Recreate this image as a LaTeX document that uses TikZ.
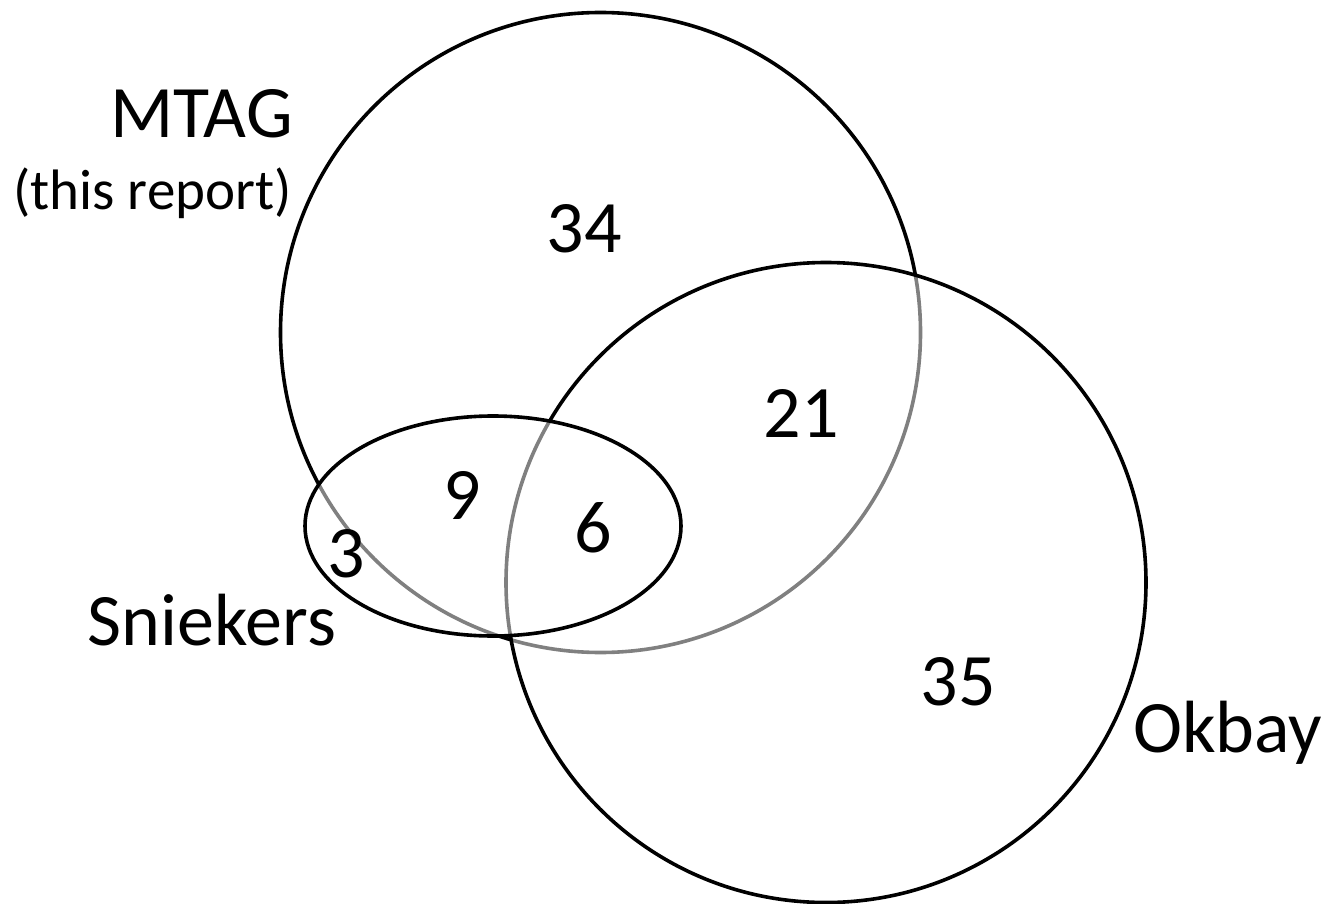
\documentclass[tikz,border=0pt]{standalone}
\usepackage{fontspec}
\setmainfont{Carlito}
\begin{document}
\begin{tikzpicture}[x=1pt,y=-1pt,
  ring/.style={draw=black,line width=3.6pt},
  veil/.style={ring,fill=white,fill opacity=0.5},
  big/.style={font=\fontsize{74}{80}\selectfont,inner sep=0pt},
  small/.style={font=\fontsize{57}{62}\selectfont,inner sep=0pt}]
\useasboundingbox (0,0) rectangle (1341,904);
\fill[white] (0,0) rectangle (1341,904);
% MTAG circle
\path[ring] (600.5,332.5) circle[radius=320pt];
% Okbay circle
\path[veil] (826,582.5) circle[radius=320pt];
% Sniekers ellipse
\path[veil] (493,526) ellipse[x radius=188pt,y radius=110pt];
% labels
\node[big,anchor=base east] (mtag) at (293,138) {MTAG};
\node[small,anchor=base east] (rep) at (292,210) {(this report)};
\node[big,anchor=base] (snk) at (212,645) {Sniekers};
\node[big,anchor=base west] (okb) at (1133,752) {Okbay};
% counts
\node[big,anchor=base] (n34) at (584,252) {34};
\node[big,anchor=base] (n21) at (801,437) {21};
\node[big,anchor=base] (n9) at (462,519) {9};
\node[big,anchor=base] (n6) at (593,552) {6};
\node[big,anchor=base] (n3) at (346,577) {3};
\node[big,anchor=base] (n35) at (958,705) {35};
\end{tikzpicture}
\end{document}
